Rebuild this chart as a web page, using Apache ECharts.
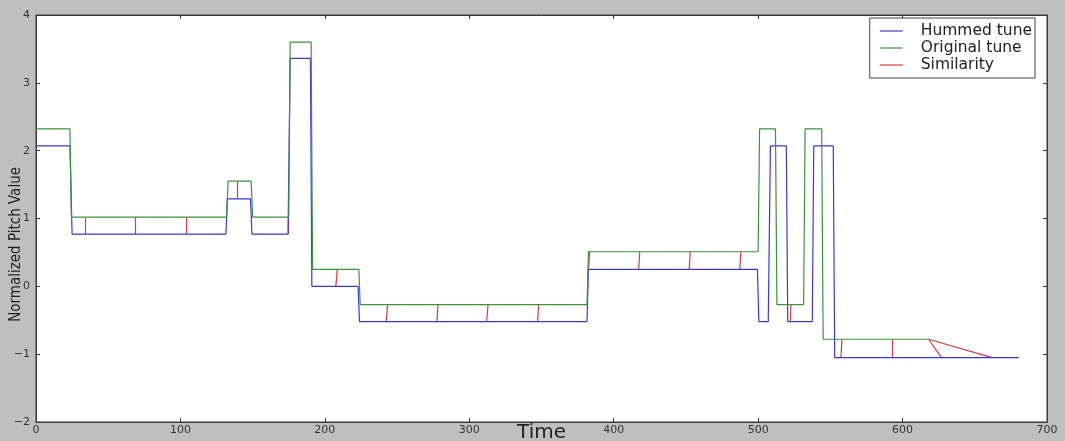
<!DOCTYPE html>
<html lang="en" style="height: 100%">
<head>
  <meta charset="utf-8">
</head>
<body style="height: 100%; margin: 0; background: #bfbfbf">
  <div id="container" style="width: 1065px; height: 441px"></div>

  <script type="text/javascript" src="https://cdn.jsdelivr.net/npm/echarts@6/dist/echarts.min.js"></script>

  <script type="text/javascript">
    // corner points of the hummed tune (time, pitch)
    var hummedT = [0, 23.5, 25, 131.5, 132.5, 148.5, 149.5, 174.5, 176, 190, 191, 223, 224, 381.5, 382.5, 499.5, 500.5, 507, 508.5, 519.5, 520.5, 537.5, 538.5, 552, 553, 680.5];
    var hummedP = [2.07, 2.07, 0.77, 0.77, 1.29, 1.29, 0.77, 0.77, 3.36, 3.36, 0, 0, -0.52, -0.52, 0.25, 0.25, -0.52, -0.52, 2.07, 2.07, -0.52, -0.52, 2.07, 2.07, -1.05, -1.05];

    // corner points of the original tune
    var originalT = [0, 23.5, 24.5, 132, 133, 149, 150, 175, 176, 190.5, 191.5, 223.5, 224.5, 381.5, 382.5, 500, 501, 512, 513, 531.5, 532.5, 544, 545, 618];
    var originalP = [2.32, 2.32, 1.02, 1.02, 1.55, 1.55, 1.02, 1.02, 3.6, 3.6, 0.25, 0.25, -0.27, -0.27, 0.51, 0.51, 2.32, 2.32, -0.27, -0.27, 2.32, 2.32, -0.78, -0.78];

    // similarity links: original point -> hummed point
    var simOrigT = [34, 69, 104, 139, 174.5, 208.6, 243.5, 278.4, 313, 348, 383.3, 418, 453, 488, 522.7, 558, 593, 618, 618];
    var simOrigP = [1.02, 1.02, 1.02, 1.55, 1.02, 0.25, -0.27, -0.27, -0.27, -0.27, 0.51, 0.51, 0.51, 0.51, -0.27, -0.78, -0.78, -0.78, -0.78];
    var simHumT = [34, 69, 104, 139, 174.5, 207.6, 242.5, 277.6, 312, 347.3, 382.6, 417.3, 452.3, 487.3, 522.3, 557.3, 593, 627, 662];
    var simHumP = [0.77, 0.77, 0.77, 1.29, 0.77, 0, -0.52, -0.52, -0.52, -0.52, 0.25, 0.25, 0.25, 0.25, -0.52, -1.05, -1.05, -1.05, -1.05];

    var blue = '#3a3ad2';
    var green = '#3d923d';
    var red = '#d83c3c';
    var frame = '#3a3a3a';
    var font = 'DejaVu Sans';

    function pairs(xs, ys) {
      var out = [];
      for (var i = 0; i < xs.length; i++) out.push([xs[i], ys[i]]);
      return out;
    }

    var simLinks = [];
    for (var i = 0; i < simOrigT.length; i++) {
      simLinks.push({ coords: [[simOrigT[i], simOrigP[i]], [simHumT[i], simHumP[i]]] });
    }

    var dom = document.getElementById('container');
    var myChart = echarts.init(dom, null, { renderer: 'canvas' });

    var minus = function (v) { return String(v).replace('-', '\u2212'); };

    // matplotlib style frame: ticks inside on all four sides
    var sideAxis = {
      axisLine: { show: true, onZero: false, lineStyle: { color: frame } },
      axisTick: { show: true, inside: true, length: 4, lineStyle: { color: frame } },
      splitLine: { show: false }
    };

    var option = {
      backgroundColor: '#bfbfbf',
      animation: false,
      grid: {
        left: 36, right: 18, top: 15, bottom: 19,
        outerBoundsMode: 'none',
        show: true, backgroundColor: '#ffffff', borderColor: frame, borderWidth: 1
      },
      legend: {
        orient: 'vertical',
        right: 30, top: 18,
        backgroundColor: '#ffffff',
        borderColor: '#444', borderWidth: 1, borderRadius: 0,
        padding: [5, 3, 5, 10],
        itemGap: 1,
        itemWidth: 23, itemHeight: 1.2,
        textStyle: { fontFamily: font, fontSize: 15.5, lineHeight: 16, color: '#222', padding: [0, 0, 0, 13] },
        data: [
          { name: 'Hummed tune', icon: 'rect', itemStyle: { borderWidth: 0 } },
          { name: 'Original tune', icon: 'rect', itemStyle: { borderWidth: 0 } },
          { name: 'Similarity', icon: 'rect', itemStyle: { borderWidth: 0, color: red } }
        ]
      },
      graphic: [{
        type: 'text',
        left: 9, top: 167,
        rotation: Math.PI / 2,
        style: { text: 'Normalized Pitch Value', fontFamily: 'DejaVu Sans Condensed, DejaVu Sans', fontSize: 15, fill: '#222' }
      }],
      xAxis: [Object.assign({
        type: 'value', min: 0, max: 700, interval: 100,
        name: 'Time', nameLocation: 'middle', nameGap: 1, nameMoveOverlap: false,
        nameTextStyle: { fontFamily: font, fontSize: 20, color: '#222', verticalAlign: 'top' },
        axisLabel: { fontFamily: font, fontSize: 11, color: '#333', margin: 3 }
      }, sideAxis), Object.assign({
        type: 'value', min: 0, max: 700, interval: 100, position: 'top',
        axisLabel: { show: false }
      }, sideAxis)],
      yAxis: [Object.assign({
        type: 'value', min: -2, max: 4, interval: 1,
        axisLabel: { fontFamily: font, fontSize: 11, color: '#333', margin: 6, formatter: minus }
      }, sideAxis), Object.assign({
        type: 'value', min: -2, max: 4, interval: 1, position: 'right',
        axisLabel: { show: false }
      }, sideAxis)],
      series: [
        {
          name: 'Hummed tune', type: 'line', showSymbol: false,
          data: pairs(hummedT, hummedP),
          itemStyle: { color: blue },
          lineStyle: { color: blue, width: 1.2 }
        },
        {
          name: 'Original tune', type: 'line', showSymbol: false,
          data: pairs(originalT, originalP),
          itemStyle: { color: green },
          lineStyle: { color: green, width: 1.2 }
        },
        {
          name: 'Similarity', type: 'lines', coordinateSystem: 'cartesian2d',
          data: simLinks,
          itemStyle: { color: red },
          lineStyle: { color: red, width: 1.2, opacity: 1 }
        }
      ]
    };

    myChart.setOption(option);
    window.addEventListener('resize', myChart.resize);
  </script>
</body>
</html>
